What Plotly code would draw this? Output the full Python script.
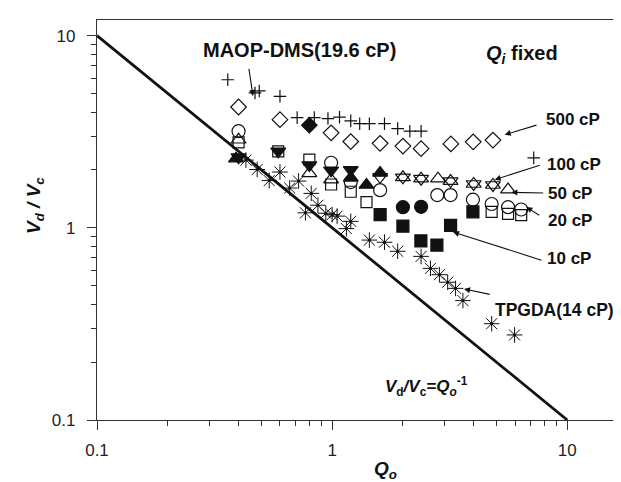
import plotly.graph_objects as go

# ---------------- data ----------------
maop_x = [0.36, 0.47, 0.49, 0.60, 0.71, 0.84, 0.96, 1.075, 1.2, 1.31, 1.44, 1.67, 1.90, 2.14, 2.39, 7.2]
maop_y = [5.89, 5.03, 5.15, 4.83, 3.74, 3.74, 3.70, 3.76, 3.60, 3.48, 3.48, 3.48, 3.28, 3.18, 3.18, 2.31]

cp500_x = [0.40, 0.60, 0.99, 1.2, 1.6, 2.0, 2.39, 3.2, 3.98, 4.83]
cp500_y = [4.25, 3.65, 3.12, 2.81, 2.75, 2.66, 2.58, 2.73, 2.80, 2.86]

fdiam_x = [0.80]
fdiam_y = [3.42]

cp100_x = [1.6, 2.0, 2.39, 3.19, 4.0, 4.83]
cp100_y = [1.84, 1.83, 1.80, 1.75, 1.69, 1.67]

cp50_x = [0.40, 0.80, 0.99, 2.0, 2.39, 2.82, 3.19, 4.0, 4.83, 5.6]
cp50_y = [2.87, 1.92, 1.78, 1.83, 1.80, 1.80, 1.75, 1.69, 1.67, 1.58]

cp20_x = [0.40, 0.99, 1.2, 1.6, 2.8, 3.19, 3.97, 4.77, 5.6, 6.37]
cp20_y = [3.18, 2.18, 1.73, 1.57, 1.48, 1.48, 1.40, 1.33, 1.28, 1.245]

osq_x = [0.40, 0.59, 0.80, 0.99, 1.2, 1.40, 4.77, 5.6, 6.37]
osq_y = [2.78, 2.50, 2.26, 1.68, 1.54, 1.36, 1.21, 1.18, 1.164]

ftd_x = [0.40, 0.59, 0.80, 0.99, 1.2]
ftd_y = [2.33, 2.50, 2.12, 1.99, 2.0]

ftu_x = [0.39, 1.2, 1.40, 1.6]
ftu_y = [2.29, 1.82, 1.67, 1.93]

fci_x = [2.0, 2.39]
fci_y = [1.28, 1.285]

cp10_x = [1.6, 2.0, 2.385, 2.79, 3.19, 3.97]
cp10_y = [1.17, 1.02, 0.854, 0.813, 1.03, 1.21]

tpg_x = [0.43, 0.48, 0.54, 0.60, 0.66, 0.72, 0.815, 0.87, 0.77, 0.94, 1.0, 1.05, 1.2, 1.15,
         1.44, 1.67, 1.9, 2.39, 2.62, 2.86, 3.1, 3.35, 3.6, 4.77, 5.97]
tpg_y = [2.25, 2.01, 1.76, 1.95, 1.61, 1.75, 1.51, 1.31, 1.196, 1.19, 1.17, 1.15, 1.08, 0.99,
         0.863, 0.841, 0.755, 0.71, 0.615, 0.57, 0.521, 0.484, 0.418, 0.317, 0.277]

line_q = [0.1, 10.0]
line_v = [1.0 / q for q in line_q]

x_tickvals = [0.1, 1, 10]
x_ticktext = ["0.1", "1", "10"]
y_tickvals = [0.1, 1, 10]
y_ticktext = ["0.1", "1", "10"]
x_minor = [m * d for d in (0.1, 1) for m in range(2, 10)]
y_minor = [m * d for d in (0.1, 1) for m in range(2, 10)]

# ---------------- figure ----------------
INK = "#111111"
FONT = "Liberation Sans, Arial, Helvetica, sans-serif"

fig = go.Figure()

fig.add_trace(go.Scatter(x=line_q, y=line_v, mode="lines",
                         line=dict(color=INK, width=2.8), hoverinfo="skip"))


def pts(x, y, symbol, size, lw=1.2):
    fig.add_trace(go.Scatter(
        x=x, y=y, mode="markers",
        marker=dict(symbol=symbol, size=size, color=INK,
                    line=dict(color=INK, width=lw))))


pts(maop_x, maop_y, "cross-thin-open", 9, 1.2)
pts(cp500_x, cp500_y, "diamond-open", 12)
pts(fdiam_x, fdiam_y, "diamond", 12)
pts(cp20_x, cp20_y, "circle-open", 13)
pts(osq_x, osq_y, "square-open", 11)
pts(cp50_x, cp50_y, "triangle-up-open", 13)
pts(cp100_x, cp100_y, "triangle-down-open", 13)
pts(ftd_x, ftd_y, "triangle-down", 13)
pts(ftu_x, ftu_y, "triangle-up", 13)
pts(fci_x, fci_y, "circle", 13)
pts(cp10_x, cp10_y, "square", 12)
pts(tpg_x, tpg_y, "asterisk-open", 13, 1.0)
pts(tpg_x, tpg_y, "circle", 3, 0)


def px(xp):
    return (xp - 89.0) / 532.0


def py(yp):
    return (412.0 - yp) / 400.0


annotations = []


def label(text, xp, yp, size, angle=0, xanchor="center"):
    annotations.append(dict(text=text, x=px(xp), y=py(yp), xref="paper", yref="paper",
                            showarrow=False, xanchor=xanchor, yanchor="middle",
                            textangle=angle, font=dict(size=size, color=INK, family=FONT)))


def arrow(tipx, tipy, tailx, taily):
    annotations.append(dict(text="", x=px(tipx), y=py(tipy), xref="paper", yref="paper",
                            ax=tailx - tipx, ay=taily - tipy, showarrow=True,
                            arrowhead=2, arrowsize=1.1, arrowwidth=1.1,
                            arrowcolor=INK, standoff=0, startstandoff=0))


label("<b>MAOP-DMS(19.6 cP)</b>", 291.7, 41.7, 20)
label("<b><i>Q</i><sub><i>i</i></sub> fixed</b>", 514, 46.7, 20)
label("<b>500 cP</b>", 536, 111, 17, xanchor="left")
label("<b>100 cP</b>", 536.5, 156, 17, xanchor="left")
label("<b>50 cP</b>", 538, 185, 17, xanchor="left")
label("<b>20 cP</b>", 538, 212.7, 17, xanchor="left")
label("<b>10 cP</b>", 536.5, 250.7, 17, xanchor="left")
label("<b>TPGDA(14 cP)</b>", 485, 301.7, 17.5, xanchor="left")
label("<b><i>V</i><sub>d</sub><i>/V</i><sub>c</sub><i>=Q</i><sub><i>o</i></sub><sup>-1</sup></b>",
      418, 378, 17)
label("<b><i>Q</i><sub><i>o</i></sub></b>", 377, 462, 19)
label("<b><i>V</i><sub><i>d</i></sub><i> / V</i><sub><i>c</i></sub></b>", 27, 198, 19, -90)

arrow(245, 88, 240.7, 59.3)
arrow(496.7, 126.7, 530, 116.7)
arrow(486.7, 171.7, 533.3, 156.7)
arrow(503.3, 184.3, 536.7, 185)
arrow(518.3, 199, 532.7, 208.3)
arrow(445, 224, 535, 252.7)
arrow(456, 281, 483.3, 286.7)

AX = "#333333"
fig.update_layout(
    width=621, height=482,
    margin=dict(l=89, r=0, t=12, b=70),
    paper_bgcolor="white", plot_bgcolor="white",
    showlegend=False,
    font=dict(family=FONT, size=17, color="#222222"),
    annotations=annotations,
    xaxis=dict(type="log", range=[-1, 1.2626], showgrid=False, zeroline=False,
               showline=True, linecolor=AX, linewidth=1.4, mirror=True,
               ticks="outside", ticklen=9, tickwidth=1.2, tickcolor=AX,
               tickmode="array", tickvals=x_tickvals, ticktext=x_ticktext,
               ticklabelstandoff=5,
               tickfont=dict(size=17, color="#222222", family=FONT),
               minor=dict(ticks="outside", ticklen=5, tickwidth=1, tickcolor=AX,
                          tickmode="array", tickvals=x_minor, showgrid=False)),
    yaxis=dict(type="log", range=[-1, 1.081], showgrid=False, zeroline=False,
               showline=True, linecolor=AX, linewidth=1.4, mirror=False,
               ticks="outside", ticklen=9, tickwidth=1.2, tickcolor=AX,
               tickmode="array", tickvals=y_tickvals, ticktext=y_ticktext,
               ticklabelstandoff=8,
               tickfont=dict(size=17, color="#222222", family=FONT),
               minor=dict(ticks="outside", ticklen=5, tickwidth=1, tickcolor=AX,
                          tickmode="array", tickvals=y_minor, showgrid=False)),
)

fig.write_html("out.html")
